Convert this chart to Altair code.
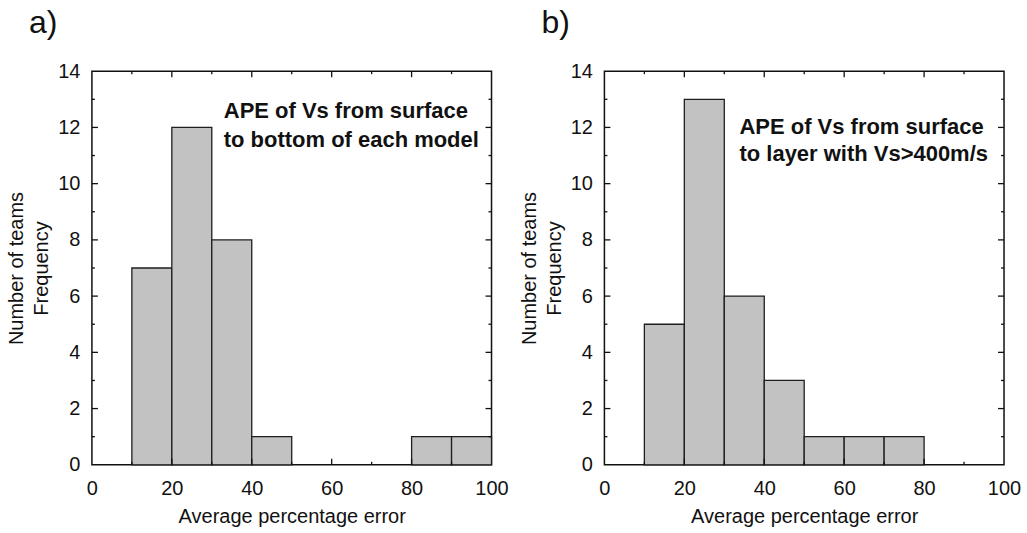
import altair as alt
import pandas as pd

# Histogram bins (lower, upper) and counts
bins_lo = [10, 20, 30, 40, 50, 60, 70, 80, 90]
bins_hi = [20, 30, 40, 50, 60, 70, 80, 90, 100]
counts_a = [7, 12, 8, 1, 0, 0, 0, 1, 1]
counts_b = [5, 13, 6, 3, 1, 1, 1, 0, 0]

labels = ["a)", "b)"]
notes_a = ["APE of Vs from surface", "to bottom of each model"]
notes_b = ["APE of Vs from surface", "to layer with Vs>400m/s"]
note_x = [33.0, 33.8]
note_y_a = [12.6, 11.55]
note_y_b = [12.0, 11.05]

x_major = [20, 40, 60, 80]
x_minor = [10, 30, 50, 70, 90]
y_major = [2, 4, 6, 8, 10, 12]
y_minor = [1, 3, 5, 7, 9, 11, 13]
x_label_values = [0, 20, 40, 60, 80, 100]
y_label_values = [0, 2, 4, 6, 8, 10, 12, 14]

W, H = 400, 394
FONT = "Liberation Sans"
MAJ, MIN = 6, 3

xs = alt.Scale(domain=[0, 100], nice=False, zero=False)
ys = alt.Scale(domain=[0, 14], nice=False)
xax = alt.Axis(values=x_label_values, title="Average percentage error")
yax = alt.Axis(values=y_label_values, title=["Number of teams", "Frequency"])


def panel(counts, label, notes, nx, nys):
    df = pd.DataFrame({"lo": bins_lo, "hi": bins_hi, "n": counts})
    df = df[df["n"] > 0].copy()
    df["base"] = 0
    bars = alt.Chart(df).mark_bar(
        fill="#c2c2c2", stroke="#1e1e1e", strokeWidth=1.3
    ).encode(
        x=alt.X("lo:Q", scale=xs, axis=xax),
        x2="hi:Q",
        y=alt.Y("n:Q", scale=ys, axis=yax),
        y2="base:Q",
    )
    ndf = pd.DataFrame({"t": notes, "x": [nx, nx], "y": nys})
    text = alt.Chart(ndf).mark_text(
        align="left", baseline="middle", fontSize=22, fontWeight="bold",
        font=FONT, color="#111"
    ).encode(x=alt.X("x:Q", scale=xs, axis=xax),
             y=alt.Y("y:Q", scale=ys, axis=yax), text="t:N")

    def yticks(vals, ln):
        d = pd.DataFrame({"v": vals})
        l = alt.Chart(d).mark_rule(color="#111", strokeWidth=1.3).encode(
            y=alt.Y("v:Q", scale=ys, axis=yax), x=alt.value(0), x2=alt.value(ln))
        r = alt.Chart(d).mark_rule(color="#111", strokeWidth=1.3).encode(
            y=alt.Y("v:Q", scale=ys, axis=yax), x=alt.value(W), x2=alt.value(W - ln))
        return [l, r]

    def xticks(vals, ln):
        d = pd.DataFrame({"v": vals})
        b = alt.Chart(d).mark_rule(color="#111", strokeWidth=1.3).encode(
            x=alt.X("v:Q", scale=xs, axis=xax), y=alt.value(H), y2=alt.value(H - ln))
        t = alt.Chart(d).mark_rule(color="#111", strokeWidth=1.3).encode(
            x=alt.X("v:Q", scale=xs, axis=xax), y=alt.value(0), y2=alt.value(ln))
        return [b, t]

    layers = [bars, text] + yticks(y_major, MAJ) + yticks(y_minor, MIN) \
        + xticks(x_major, MAJ) + xticks(x_minor, MIN)
    return alt.layer(*layers).properties(
        width=W, height=H,
        title=alt.TitleParams(label, anchor="start", frame="group", dx=-63,
                              fontSize=32, font=FONT, fontWeight="normal",
                              color="#111", offset=21),
    )


chart = alt.hconcat(
    panel(counts_a, labels[0], notes_a, note_x[0], note_y_a),
    panel(counts_b, labels[1], notes_b, note_x[1], note_y_b),
    spacing=113, bounds="flush",
).properties(
    padding={"left": 6, "top": 6, "right": 5, "bottom": 2},
    background="white",
).configure_view(
    stroke="#111", strokeWidth=1.5
).configure_axis(
    grid=False, ticks=False, domain=False,
    labelFont=FONT, labelFontSize=20, labelColor="#111", labelPadding=12,
    titleFont=FONT, titleFontSize=20, titleColor="#111", titleFontWeight="normal",
    titlePadding=6, titleLineHeight=25, labelFlush=False,
).configure_axisX(
    labelPadding=14, titlePadding=8
)

chart.save("out.html", embed_options={"renderer": "svg", "actions": False})
